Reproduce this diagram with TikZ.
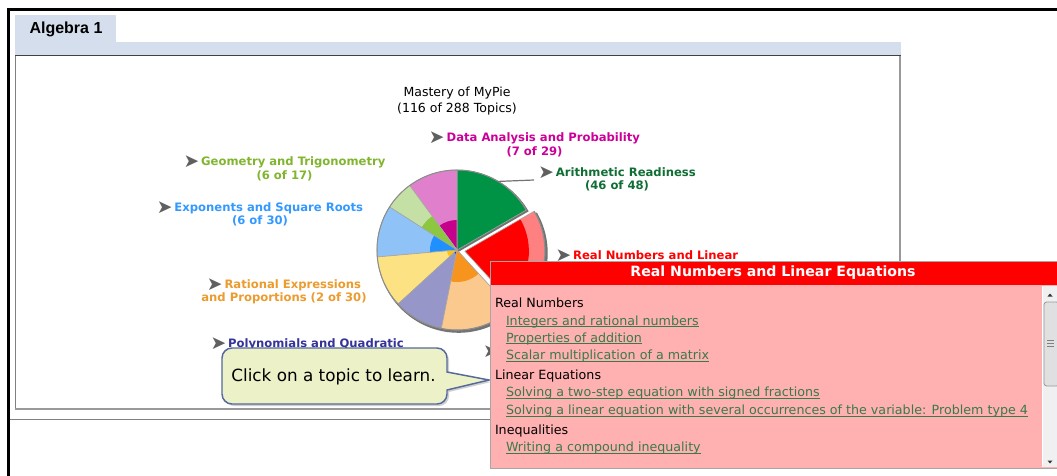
\documentclass[tikz,border=0pt]{standalone}
\usepackage{fontspec}
\setmainfont{DejaVu Sans}
\newfontfamily\arialfont{Liberation Sans}
\definecolor{tabblue}{RGB}{212,222,237}
\definecolor{arrowgray}{RGB}{96,96,96}
\definecolor{cGreen}{RGB}{0,146,69}
\definecolor{cPinkO}{RGB}{224,128,204}
\definecolor{cPinkI}{RGB}{197,0,138}
\definecolor{cLgO}{RGB}{197,224,165}
\definecolor{cLgI}{RGB}{141,198,63}
\definecolor{cBlueO}{RGB}{143,195,247}
\definecolor{cBlueI}{RGB}{30,144,255}
\definecolor{cYelO}{RGB}{253,226,131}
\definecolor{cYelI}{RGB}{255,194,14}
\definecolor{cPurO}{RGB}{150,150,200}
\definecolor{cPurI}{RGB}{46,49,146}
\definecolor{cPeaO}{RGB}{251,201,142}
\definecolor{cPeaI}{RGB}{247,148,29}
\definecolor{cRedO}{RGB}{255,128,128}
\definecolor{cRedI}{RGB}{255,0,0}
\definecolor{tData}{RGB}{204,0,153}
\definecolor{tGeo}{RGB}{128,182,46}
\definecolor{tExp}{RGB}{51,153,255}
\definecolor{tArith}{RGB}{16,110,52}
\definecolor{tReal}{RGB}{255,0,0}
\definecolor{tRat}{RGB}{236,156,46}
\definecolor{tPoly}{RGB}{51,51,153}
\definecolor{popPink}{RGB}{255,176,176}
\definecolor{linkcol}{RGB}{58,122,72}
\definecolor{calloutfill}{RGB}{236,241,200}
\definecolor{calloutline}{RGB}{86,105,156}
\newcommand\arr{{\color{arrowgray}\fontsize{14}{10}\selectfont\raisebox{-1.6pt}{➤}}\hspace{1.5pt}}
\newcommand\pieslice[5]{%
  \fill[#3] (0,0) -- (#1:80) arc (#1:#2:80) -- cycle;
  \fill[#4] (0,0) -- (#1:#5) arc (#1:#2:#5) -- cycle;
  \draw[sliceline] (0,0) -- (#1:80) arc (#1:#2:80) -- cycle;}
\newcommand\linkitem[4]{%
  \node[link] (#1) at (#2,#3) {#4};
  \draw[linkcol, line width=0.6pt] ([yshift=-1.3pt]#1.base west) -- ([yshift=-1.3pt]#1.base east);}
\begin{document}
\begin{tikzpicture}[x=0.75pt,y=-0.75pt,
  every node/.style={inner sep=0pt, outer sep=0pt},
  sliceline/.style={draw=black!35, line width=0.45pt},
  pieshadow/.style={fill=black!55},
  catlabel/.style={align=center, font=\bfseries\fontsize{8.7}{10.2}\selectfont},
  heading/.style={anchor=base west, font=\fontsize{9.5}{11}\selectfont, text=black},
  link/.style={anchor=base west, font=\fontsize{9.5}{11}\selectfont, text=linkcol}]
\useasboundingbox (0,0) rectangle (1057,475);
\clip (0,0) rectangle (1057,475);
\fill[white] (0,0) rectangle (1057,475);
% outer frame
\draw[black, line width=2.25pt] (8.5,476) -- (8.5,9.5) -- (1058,9.5);
% tab and band
\fill[tabblue] (15,15) rectangle (116,43);
\fill[tabblue] (15,42) rectangle (901,56);
\node[font=\arialfont\bfseries\fontsize{12}{14}\selectfont] (tab) at (66,29) {Algebra 1};
% panel
\fill[white] (15.5,55.5) rectangle (900,409);
\draw[black!75, line width=0.75pt] (15,55.5) -- (901,55.5);
\draw[black!50, line width=0.75pt] (15.5,55.5) -- (15.5,409);
\draw[black!40, line width=1.5pt] (900,55.5) -- (900,410);
\draw[black!40, line width=1.5pt] (15,409) -- (901,409);
\draw[black!50, line width=1.2pt] (10,419.5) -- (1058,419.5);
% title
\node[align=center, font=\fontsize{9.4}{12}\selectfont] (title) at (457,101) {Mastery of MyPie\\(116 of 288 Topics)};
% pie
\begin{scope}[shift={(457,250)}, yscale=-1]
  \fill[pieshadow] (1.5,-1.8) -- +(30:81) arc (30:312.5:81) -- cycle;
  \begin{scope}[shift={(351.25:8)}]
    \fill[pieshadow] (1.8,-1.8) -- +(312.5:81) arc (312.5:390:81) -- cycle;
  \end{scope}
  \pieslice{30}{90}{cGreen}{cGreen}{80}
  \pieslice{90}{126.25}{cPinkO}{cPinkI}{30}
  \pieslice{126.25}{147.5}{cLgO}{cLgI}{42}
  \pieslice{147.5}{185}{cBlueO}{cBlueI}{27}
  \pieslice{185}{222.5}{cYelO}{cYelI}{10}
  \pieslice{222.5}{258.75}{cPurO}{cPurI}{4}
  \pieslice{258.75}{312.5}{cPeaO}{cPeaI}{32}
  \draw[black!45, line width=0.75pt] (30:80) arc (30:312.5:80);
  \begin{scope}[shift={(351.25:8)}]
    \pieslice{312.5}{390}{cRedO}{cRedI}{64}
    \draw[black!45, line width=0.75pt] (312.5:80) arc (312.5:390:80);
  \end{scope}
  \coordinate (arSlice) at (59:80);
\end{scope}
\coordinate (arEnd) at (534,180);
\draw[black!55, line width=0.9pt] (arSlice) -- (arEnd);
% category labels
\node[catlabel, text=tData] (lData) at (534.5,144.5) {\arr Data Analysis and Probability\\(7 of 29)};
\node[catlabel, text=tGeo] (lGeo) at (284.5,168.5) {\arr Geometry and Trigonometry\\(6 of 17)};
\node[catlabel, text=tExp] (lExp) at (260,214) {\arr Exponents and Square Roots\\(6 of 30)};
\node[catlabel, text=tArith] (lArith) at (617,179) {\arr Arithmetic Readiness\\(46 of 48)};
\node[catlabel, text=tRat] (lRat) at (284,291.5) {\arr Rational Expressions\\and Proportions (2 of 30)};
\node[catlabel, text=tReal, anchor=west] (lReal) at (555.5,256) {\arr Real Numbers and Linear};
\node[catlabel, text=tPoly, anchor=west] (lPoly) at (210.5,343.5) {\arr Polynomials and Quadratic};
\node[catlabel, anchor=west] (lPeach) at (483,352) {\arr};
% callout
\begin{scope}[shift={(2,2)}]
  \fill[black!30, opacity=0.6] (232,348) -- (437,348) arc[start angle=-90,end angle=0,radius=10] -- (447,372) -- (489,380) -- (447,390) -- (447,394) arc[start angle=0,end angle=90,radius=10] -- (232,404) arc[start angle=90,end angle=180,radius=10] -- (222,358) arc[start angle=180,end angle=270,radius=10] -- cycle;
\end{scope}
\draw[fill=calloutfill, draw=calloutline, line width=1.1pt] (232,348) -- (437,348) arc[start angle=-90,end angle=0,radius=10] -- (447,372) -- (489,380) -- (447,390) -- (447,394) arc[start angle=0,end angle=90,radius=10] -- (232,404) arc[start angle=90,end angle=180,radius=10] -- (222,358) arc[start angle=180,end angle=270,radius=10] -- cycle;
\node[font=\fontsize{12.6}{14}\selectfont] (hint) at (333.5,376.5) {Click on a topic to learn.};
% popup
\fill[popPink] (490,285) rectangle (1060,468);
\fill[cRedI] (490,261) rectangle (1060,285);
\draw[black!35, line width=0.75pt] (490,261) rectangle (1060,468);
\node[font=\bfseries\fontsize{10.6}{12}\selectfont, text=white] (popTitle) at (773,273) {Real Numbers and Linear Equations};
\node[heading] (h1) at (495,307) {Real Numbers};
\linkitem{k1}{506}{325}{Integers and rational numbers}
\linkitem{k2}{506}{342}{Properties of addition}
\linkitem{k3}{506}{359.3}{Scalar multiplication of a matrix}
\node[heading] (h2) at (495,379) {Linear Equations};
\linkitem{k4}{506}{396.7}{Solving a two-step equation with signed fractions}
\linkitem{k5}{506}{414.3}{Solving a linear equation with several occurrences of the variable: Problem type 4}
\node[heading] (h3) at (495,434) {Inequalities};
\linkitem{k6}{506}{451.7}{Writing a compound inequality}
% scrollbar
\fill[black!6] (1042,286) rectangle (1058,467);
\draw[white, line width=0.75pt] (1042.5,286) -- (1042.5,467);
\fill[black!80] (1047.5,296.5) -- (1052.5,296.5) -- (1050,293.5) -- cycle;
\fill[black!80] (1047.5,460.5) -- (1052.5,460.5) -- (1050,463.5) -- cycle;
\draw[fill=black!12, draw=black!40, line width=0.6pt, rounded corners=2] (1044,302) rectangle (1059,386);
\draw[black!50, line width=0.5pt] (1047,340) -- (1054,340) (1047,343) -- (1054,343) (1047,346) -- (1054,346);
\end{tikzpicture}
\end{document}
